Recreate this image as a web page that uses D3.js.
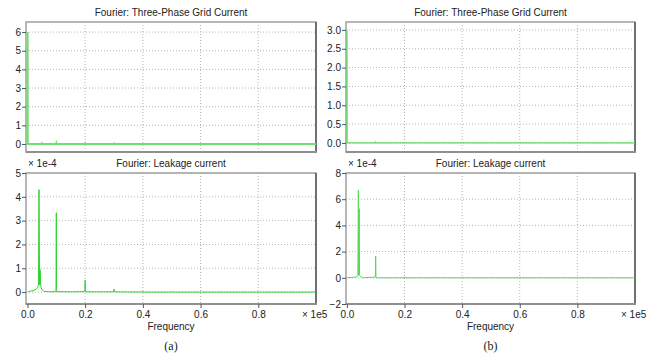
<!DOCTYPE html>
<html>
<head>
<meta charset="utf-8">
<script src="https://d3js.org/d3.v7.min.js"></script>
<style>
  body { margin: 0; background: #fff; }
  text { font-family: "Liberation Sans", Arial, sans-serif; fill: #222; }
</style>
</head>
<body>
<svg width="661" height="355"></svg>
<script>
// frequency in units of 1e5 Hz
var freqTicks = [0, 0.2, 0.4, 0.6, 0.8];
var freqLabels = ["0.0", "0.2", "0.4", "0.6", "0.8"];

// (a) grid current spectrum [freq, amplitude]
var gridA = [[0, 0], [0.0005, 6.0], [0.001, 0], [0.049, 0], [0.05, 0.03], [0.051, 0],
             [0.099, 0], [0.1, 0.05], [0.101, 0], [0.199, 0], [0.2, 0.03], [0.201, 0],
             [0.299, 0], [0.3, 0.02], [0.301, 0], [1.0, 0]];
var gridATicks = [0, 1, 2, 3, 4, 5, 6];

// (a) leakage current spectrum, amplitude x 1e-4
var leakA = [[0, 0], [0.005, 0.02], [0.01, 0.04], [0.02, 0.06], [0.03, 0.12], [0.035, 0.2],
             [0.038, 0.28], [0.04, 4.3], [0.042, 0.3], [0.044, 0.95], [0.046, 0.25], [0.05, 0.1],
             [0.055, 0.05], [0.06, 0.03], [0.07, 0.02], [0.08, 0.01], [0.098, 0.02], [0.099, 0.1],
             [0.1, 3.33], [0.101, 0.1], [0.102, 0.02], [0.15, 0.01], [0.198, 0.02], [0.199, 0.1],
             [0.2, 0.5], [0.201, 0.1], [0.202, 0.01], [0.298, 0.01], [0.299, 0.05], [0.3, 0.13],
             [0.301, 0.05], [0.302, 0.01], [0.399, 0], [0.4, 0.03], [0.401, 0], [0.499, 0],
             [0.5, 0.02], [0.501, 0], [1.0, 0]];
var leakATicks = [0, 1, 2, 3, 4, 5];

// (b) grid current spectrum
var gridB = [[0, 0], [0.0005, 3.0], [0.001, 0], [0.099, 0], [0.1, 0.02], [0.101, 0], [1.0, 0]];
var gridBTicks = [0, 0.5, 1, 1.5, 2, 2.5, 3];

// (b) leakage current spectrum, amplitude x 1e-4
var leakB = [[0, 0], [0.03, 0.05], [0.038, 0.15], [0.04, 6.7], [0.041, 0.2], [0.043, 5.28],
             [0.044, 0.2], [0.05, 0.05], [0.055, 0], [0.099, 0.05], [0.1, 1.66], [0.101, 0.05],
             [0.102, 0], [0.199, 0], [0.2, 0.05], [0.201, 0], [0.299, 0], [0.3, 0.03],
             [0.301, 0], [1.0, 0]];
var leakBTicks = [-2, 0, 2, 4, 6, 8];

var svg = d3.select("svg");

function panel(o) {
    var x = d3.scaleLinear().domain(o.xd).range([o.x0, o.x1]);
    var y = d3.scaleLinear().domain(o.yd).range([o.y1, o.y0]);
    var g = svg.append("g");

    // dotted grid
    g.selectAll(".gy").data(o.yt).enter().append("line")
        .attr("x1", o.x0).attr("x2", o.x1)
        .attr("y1", function(d) { return y(d); }).attr("y2", function(d) { return y(d); })
        .style("stroke", "#b5b5b5").style("stroke-dasharray", "1,2");
    g.selectAll(".gx").data(freqTicks.slice(1)).enter().append("line")
        .attr("y1", o.y0).attr("y2", o.y1)
        .attr("x1", function(d) { return x(d); }).attr("x2", function(d) { return x(d); })
        .style("stroke", "#b5b5b5").style("stroke-dasharray", "1,2");

    // frame, lighter top/left, darker right/bottom
    g.append("rect").attr("x", o.x0).attr("y", o.y0)
        .attr("width", o.x1 - o.x0).attr("height", o.y1 - o.y0)
        .style("fill", "none").style("stroke", "#a0a0a0").style("stroke-width", 1.5);
    g.append("line").attr("x1", o.x1).attr("x2", o.x1).attr("y1", o.y0).attr("y2", o.y1 + 1)
        .style("stroke", "#707070").style("stroke-width", 2);
    g.append("line").attr("x1", o.x0).attr("x2", o.x1 + 1).attr("y1", o.y1).attr("y2", o.y1)
        .style("stroke", "#909090").style("stroke-width", 2);

    // the spectrum
    var line = d3.line().x(function(d) { return x(d[0]); }).y(function(d) { return y(d[1]); });
    g.append("path").datum(o.data)
        .attr("d", line)
        .style("fill", "none").style("stroke", o.color).style("stroke-width", o.lw);

    // y axis
    var ya = d3.axisLeft(y).tickValues(o.yt).tickSize(4).tickPadding(1)
        .tickFormat(o.yfmt);
    var ag = g.append("g").attr("transform", "translate(" + o.x0 + ",0)").call(ya);
    ag.select(".domain").remove();
    ag.selectAll("line").style("stroke", "#555");
    ag.selectAll("text").style("font-size", "10px").style("fill", "#222");

    // x axis, bottom panels only
    if (o.xlab) {
        var xa = d3.axisBottom(x).tickValues(freqTicks).tickSize(4).tickPadding(3)
            .tickFormat(function(d, i) { return freqLabels[i]; });
        var xg = g.append("g").attr("transform", "translate(0," + o.y1 + ")").call(xa);
        xg.select(".domain").remove();
        xg.selectAll("line").style("stroke", "#555");
        xg.selectAll("text").style("font-size", "10px").style("fill", "#222");
        g.append("text").attr("x", o.x1 - 14).attr("y", o.y1 + 14)
            .style("font-size", "10px").text("\u00d7 1e5");
        g.append("text").attr("x", (o.x0 + o.x1) / 2).attr("y", o.y1 + 26)
            .attr("text-anchor", "middle").style("font-size", "10px").text("Frequency");
        g.append("text").attr("x", (o.x0 + o.x1) / 2).attr("y", o.y1 + 46)
            .attr("text-anchor", "middle")
            .style("font-family", "'Liberation Serif', 'Times New Roman', serif")
            .style("font-size", "12px").text(o.xlab);
    }
    if (o.exp) {
        g.append("text").attr("x", o.x0 + 2).attr("y", o.y0 - 6)
            .style("font-size", "10px").text(o.exp);
    }
    g.append("text").attr("x", (o.x0 + o.x1) / 2).attr("y", o.y0 - 6)
        .attr("text-anchor", "middle").style("font-size", "10px").text(o.title);
}

var intFmt = d3.format("d"), oneFmt = d3.format(".1f");

panel({x0: 26, x1: 316, y0: 22, y1: 152, xd: [-0.005, 1.0], yd: [-0.43, 6.54],
       yt: gridATicks, yfmt: intFmt, data: gridA, color: "#6ee06e", lw: 2,
       title: "Fourier: Three-Phase Grid Current"});
panel({x0: 26, x1: 316, y0: 173, y1: 304, xd: [-0.005, 1.0], yd: [-0.5, 5.0],
       yt: leakATicks, yfmt: intFmt, data: leakA, color: "#2fd22f", lw: 1,
       title: "Fourier: Leakage current", exp: "\u00d7 1e-4", xlab: "(a)"});
panel({x0: 346, x1: 635, y0: 22, y1: 152, xd: [-0.003, 1.0], yd: [-0.24, 3.21],
       yt: gridBTicks, yfmt: oneFmt, data: gridB, color: "#5edc5e", lw: 1.2,
       title: "Fourier: Three-Phase Grid Current"});
panel({x0: 346, x1: 635, y0: 173, y1: 304, xd: [-0.003, 1.0], yd: [-2, 8],
       yt: leakBTicks, yfmt: intFmt, data: leakB, color: "#55da55", lw: 1,
       title: "Fourier: Leakage current", exp: "\u00d7 1e-4", xlab: "(b)"});
</script>
</body>
</html>
